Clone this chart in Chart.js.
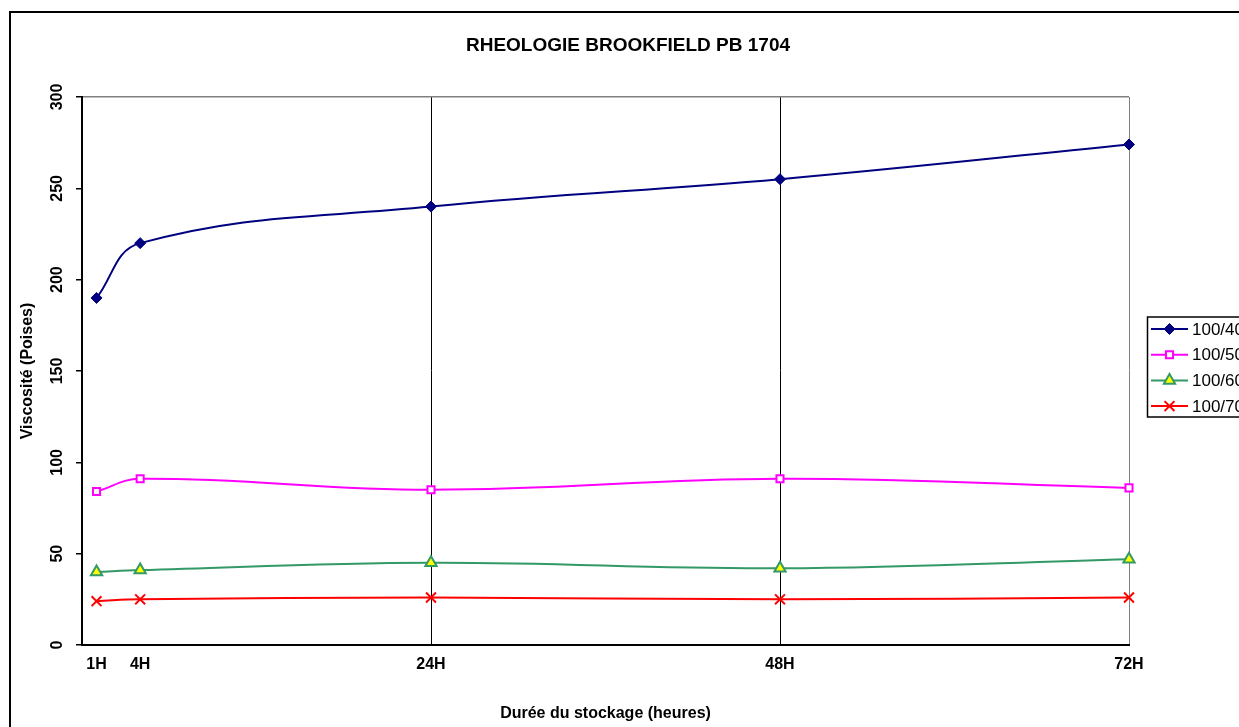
<!DOCTYPE html>
<html>
<head>
<meta charset="utf-8">
<script src="https://cdn.jsdelivr.net/npm/chart.js@4/dist/chart.umd.min.js"></script>
<style>
  html, body { margin: 0; padding: 0; background: #fff; }
  #wrap { width: 1239px; height: 727px; position: relative; }
</style>
</head>
<body>
<div id="wrap"><canvas id="chart"></canvas></div>
<script>
// Durée du stockage (heures)
const hours = [1, 4, 24, 48, 72]
const hourLabels = ['1H', '4H', '24H', '48H', '72H']
const yTicks = [0, 50, 100, 150, 200, 250, 300]

// Viscosité (Poises) par dilution
const series40 = [190, 220, 240, 255, 274]
const series50 = [84, 91, 85, 91, 86]
const series60 = [40, 41, 45, 42, 47]
const series70 = [24, 25, 26, 25, 26]
const seriesNames = ['100/40', '100/50', '100/60', '100/70']

const FONT = "'Liberation Sans', Arial, sans-serif"

const toPoints = vals => vals.map((v, i) => ({ x: hours[i], y: v }))

const datasets = [
  { label: seriesNames[0], data: toPoints(series40), borderColor: '#000080', backgroundColor: '#000080',
    pointStyle: 'rectRot', pointRadius: 5.5, pointBorderWidth: 1 },
  { label: seriesNames[1], data: toPoints(series50), borderColor: '#FF00FF', backgroundColor: '#FFFFFF',
    pointStyle: 'rect', pointRadius: 5, pointBorderWidth: 2 },
  { label: seriesNames[2], data: toPoints(series60), borderColor: '#339966', backgroundColor: '#FFFF00',
    pointStyle: 'triangle', pointRadius: 6.5, pointBorderWidth: 2 },
  { label: seriesNames[3], data: toPoints(series70), borderColor: '#FF0000', backgroundColor: '#FF0000',
    pointStyle: 'crossRot', pointRadius: 7, pointBorderWidth: 2 }
].map(ds => Object.assign(ds, { borderWidth: 2, tension: 0.4, clip: false, pointHoverRadius: ds.pointRadius }))

// Cadre, titre, étiquettes Y tournées et légende encadrée (style Excel)
const excelDecor = {
  id: 'excelDecor',
  afterDraw(chart) {
    const ctx = chart.ctx
    ctx.save()
    // cadre extérieur
    ctx.strokeStyle = '#000'
    ctx.lineWidth = 2
    ctx.strokeRect(10, 12, 1400, 900)

    // titre
    ctx.fillStyle = '#000'
    ctx.font = `bold 19px ${FONT}`
    ctx.textAlign = 'center'
    ctx.textBaseline = 'middle'
    ctx.fillText('RHEOLOGIE BROOKFIELD PB 1704', 628, 46)

    // étiquettes de l'axe Y (verticales)
    const yScale = chart.scales.y
    ctx.font = `bold 16px ${FONT}`
    yScale.ticks.forEach(t => {
      const py = yScale.getPixelForValue(t.value)
      ctx.save()
      ctx.translate(58, py)
      ctx.rotate(-Math.PI / 2)
      ctx.fillText(String(t.value), 0, 0)
      ctx.restore()
    })

    // légende
    ctx.lineWidth = 1.5
    ctx.strokeStyle = '#000'
    ctx.strokeRect(1147.5, 317, 200, 100)
    ctx.font = `17px ${FONT}`
    ctx.textAlign = 'left'
    chart.data.datasets.forEach((ds, i) => {
      const ly = 329 + i * 25.7
      ctx.strokeStyle = ds.borderColor
      ctx.lineWidth = 2
      ctx.beginPath()
      ctx.moveTo(1151, ly)
      ctx.lineTo(1188, ly)
      ctx.stroke()
      ctx.fillStyle = ds.backgroundColor
      ctx.lineWidth = ds.pointBorderWidth
      Chart.helpers.drawPoint(ctx, { pointStyle: ds.pointStyle, radius: ds.pointRadius, rotation: 0, borderWidth: ds.pointBorderWidth }, 1169.5, ly)
      ctx.fillStyle = '#000'
      ctx.fillText(ds.label, 1192, ly + 1)
    })
    ctx.restore()
  }
}

new Chart(document.getElementById('chart'), {
  type: 'line',
  data: { datasets },
  options: {
    responsive: true,
    maintainAspectRatio: false,
    animation: false,
    layout: { padding: { left: 12, right: 110, top: 97, bottom: 0 } },
    plugins: {
      legend: { display: false },
      title: { display: false },
      tooltip: { enabled: false }
    },
    scales: {
      x: {
        type: 'linear',
        min: 0,
        max: 72,
        afterBuildTicks: scale => { scale.ticks = hours.map(h => ({ value: h })) },
        afterFit: scale => { scale.height = 82 },
        ticks: {
          autoSkip: false,
          maxRotation: 0,
          padding: 4,
          color: '#000',
          font: { family: FONT, size: 16, weight: 'bold' },
          callback: value => hourLabels[hours.indexOf(value)]
        },
        grid: {
          drawTicks: true,
          tickLength: 6,
          tickColor: 'transparent',
          lineWidth: 1,
          color: ctx => {
            const v = ctx.tick && ctx.tick.value
            if (v === 24 || v === 48) return '#000'
            if (v === 72) return '#808080'
            return 'transparent'
          }
        },
        border: { display: true, color: '#000', width: 2 },
        title: {
          display: true,
          text: 'Durée du stockage (heures)',
          color: '#000',
          font: { family: FONT, size: 16, weight: 'bold' },
          padding: { top: 4, bottom: 4 }
        }
      },
      y: {
        min: 0,
        max: 300,
        afterBuildTicks: scale => { scale.ticks = yTicks.map(v => ({ value: v })) },
        afterFit: scale => { scale.width = 70 },
        ticks: { display: false },
        grid: {
          drawTicks: true,
          tickLength: 6,
          tickColor: '#000',
          tickWidth: 1.5,
          lineWidth: 1.5,
          color: ctx => (ctx.tick && ctx.tick.value === 300 ? '#808080' : 'transparent')
        },
        border: { display: true, color: '#000', width: 2 },
        title: {
          display: true,
          text: 'Viscosité (Poises)',
          color: '#000',
          font: { family: FONT, size: 16, weight: 'bold' },
          padding: { top: 6, bottom: 4 }
        }
      }
    }
  },
  plugins: [excelDecor]
})
</script>
</body>
</html>
